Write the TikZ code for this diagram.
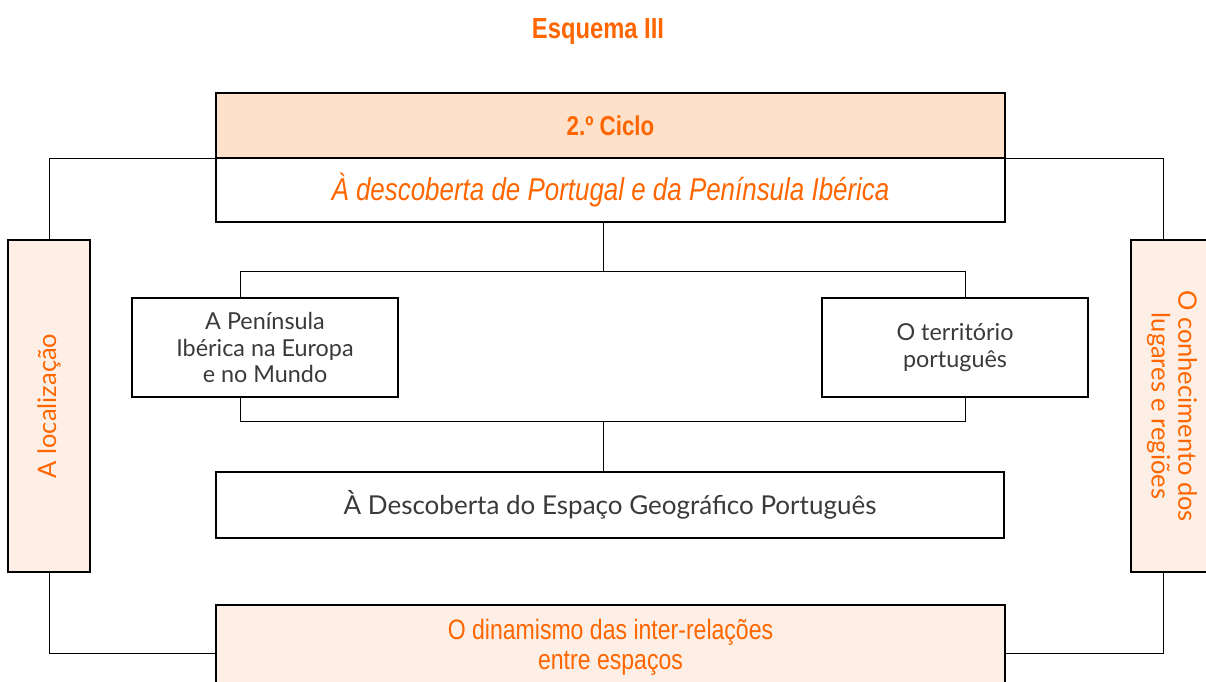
\documentclass[tikz,border=0pt]{standalone}
\usepackage{fontspec}
\setmainfont{Lato}
\newfontfamily\narrowfont[FakeStretch=0.82]{Liberation Sans}
\usetikzlibrary{positioning}
\definecolor{esqorange}{HTML}{FF6600}
\definecolor{peachdark}{HTML}{FDE1CB}
\definecolor{peachlight}{HTML}{FDEFE5}
\definecolor{textgray}{HTML}{3A3A3A}
\tikzset{%
	widebox/.style  = {draw, line width=0.8pt, minimum width=15.78cm, text centered},
	sidebox/.style  = {draw, line width=0.9pt, fill=peachlight, minimum width=1.64cm, minimum height=6.64cm},
	topicbox/.style = {draw, line width=0.8pt, minimum width=5.32cm, minimum height=1.98cm, align=center, text=textgray,
	                   font=\fontsize{13.3}{15}\selectfont},
	sidetext/.style = {text=esqorange, align=center, font=\fontsize{14.5}{15.3}\selectfont},
	linkline/.style = {line width=0.5pt},
}
\begin{document}
\begin{tikzpicture}[x=0.02cm,y=-0.02cm]
	\useasboundingbox (0,0) rectangle (1206,682);
	\clip (0,0) rectangle (1206,682);
	\node[text=esqorange,font=\narrowfont\bfseries\fontsize{16.5}{18}\selectfont] (title) at (598,32) {Esquema III};
	% top boxes
	\node[widebox,fill=peachdark,minimum height=1.3cm,text=esqorange,font=\narrowfont\bfseries\fontsize{15.5}{17}\selectfont] (cicloBox) at (610.5,125.5) {2.º Ciclo};
	\node[widebox,minimum height=1.28cm,text=esqorange,font=\narrowfont\itshape\fontsize{18}{20}\selectfont] (descBox) at (610.5,190) {À descoberta de Portugal e da Península Ibérica};
	% sides
	\node[sidebox] (locBox) at (49,406) {};
	\node[sidetext,rotate=90] (locText) at (locBox) {A localização};
	\node[sidebox] (conhBox) at (1172,406) {};
	\node[sidetext,rotate=-90] (conhText) at (conhBox) {O conhecimento dos\\lugares e regiões};
	% middle
	\node[topicbox] (penBox) at (265,347.5) {A Península\\Ibérica na Europa\\e no Mundo};
	\node[topicbox] (terrBox) at (955,347.5) {O território\\português};
	\node[widebox,minimum width=15.76cm,minimum height=1.32cm,text=textgray,font=\fontsize{14.8}{16}\selectfont] (espBox) at (610,505) {À Descoberta do Espaço Geográfico Português};
	\node[widebox,fill=peachlight,minimum height=1.68cm,align=center,text=esqorange,font=\narrowfont\fontsize{16}{17}\selectfont] (dinBox) at (610.5,647) {O dinamismo das inter-relações\\entre espaços};
	% tree
	\coordinate (topL) at (240,271);
	\coordinate (topR) at (965,271);
	\coordinate (botL) at (240,421);
	\coordinate (botR) at (965,421);
	\draw[linkline] (603,222) coordinate (descFoot) -- (descFoot |- topL);
	\draw[linkline] (penBox.north -| topL) -- (topL) -- (topR) -- (terrBox.north -| topR);
	\draw[linkline] (penBox.south -| botL) -- (botL) -- (botR) -- (terrBox.south -| botR);
	\draw[linkline] (espBox.north -| descFoot) -- (descFoot |- botL);
	% outer loop
	\coordinate (loopR) at (1163,0);
	\draw[linkline] (cicloBox.south west) -| (locBox.north);
	\draw[linkline] (locBox.south) |- ([yshift=-0.12cm]dinBox.west);
	\draw[linkline] (cicloBox.south east) -| (conhBox.north -| loopR);
	\draw[linkline] (conhBox.south -| loopR) |- ([yshift=-0.12cm]dinBox.east);
\end{tikzpicture}
\end{document}
